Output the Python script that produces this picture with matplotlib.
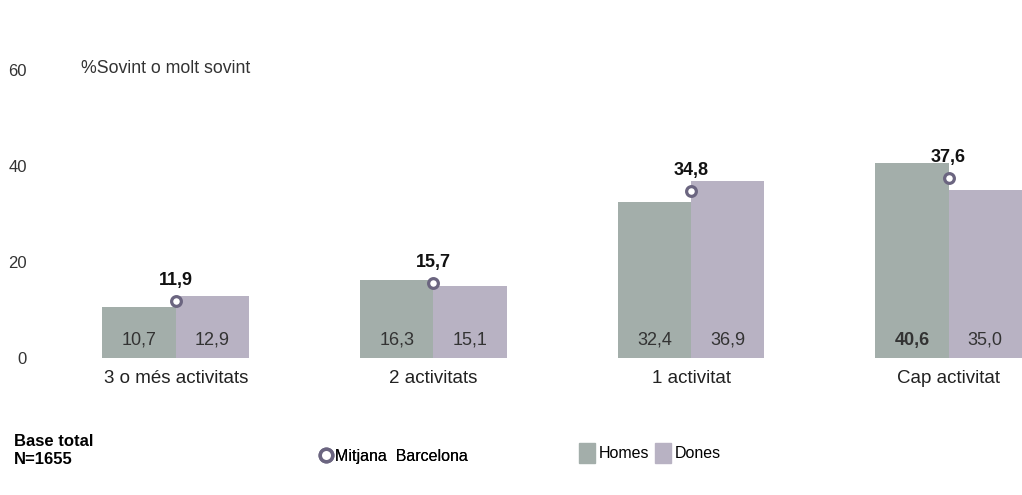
import matplotlib
matplotlib.use("Agg")
import matplotlib.pyplot as plt
from matplotlib.lines import Line2D
from matplotlib.patches import Patch
import numpy as np

plt.rcParams['font.family'] = ['Liberation Sans', 'DejaVu Sans']

# data
categories = ["3 o més activitats", "2 activitats", "1 activitat", "Cap activitat"]
homes = [10.7, 16.3, 32.4, 40.6]
dones = [12.9, 15.1, 36.9, 35.0]
mitjana = [11.9, 15.7, 34.8, 37.6]
yticks = [0, 20, 40, 60]

col_homes = "#a3aeaa"
col_dones = "#b8b2c3"
col_mark = "#6b6580"

def fmt(v):
    return ("%.1f" % v).replace(".", ",")

W, H = 1022, 495
fig = plt.figure(figsize=(W / 100, H / 100), dpi=100)
ax = fig.add_axes([60 / W, 137 / H, (W - 60) / W, 312 / H])

x = np.arange(len(categories))
bw = 0.285
ax.bar(x - bw / 2, homes, bw, color=col_homes, linewidth=0)
ax.bar(x + bw / 2, dones, bw, color=col_dones, linewidth=0)
ax.plot(x, mitjana, linestyle="none", marker="o", markersize=7,
        markerfacecolor="white", markeredgecolor=col_mark, markeredgewidth=2.3, zorder=5)

for i in range(len(categories)):
    # the reference shows 40,6 in bold
    wh = "bold" if i == 3 else "normal"
    ax.text(x[i] - bw / 2, 3.7, fmt(homes[i]), ha="center", va="center",
            fontsize=13, color="#333333", fontweight=wh)
    ax.text(x[i] + bw / 2, 3.7, fmt(dones[i]), ha="center", va="center",
            fontsize=13, color="#333333")
    ax.text(x[i], mitjana[i] + 2.4, fmt(mitjana[i]), ha="center", va="bottom",
            fontsize=13, fontweight="bold", color="#111111")
    ax.text(x[i], -2.6, categories[i], ha="center", va="top", fontsize=13.5, color="#222222")

ax.set_xlim(-0.45, 3 + bw)
ax.set_ylim(0, 65)
ax.set_yticks(yticks)
ax.set_yticklabels([str(t) for t in yticks], fontsize=12, color="#333333")
ax.tick_params(axis="y", length=0, pad=24)
ax.set_xticks([])
for s in ax.spines.values():
    s.set_visible(False)

ax.text(-0.37, 60.3, "%Sovint o molt sovint", ha="left", va="center", fontsize=12.8, color="#333333")

fig.text(14 / W, 1 - 450 / H, "Base total\nN=1655", ha="left", va="center",
         fontsize=12, fontweight="bold", linespacing=1.25)

leg1 = fig.legend(handles=[Line2D([], [], linestyle="none", marker="o", markersize=9,
                                  markerfacecolor="white", markeredgecolor=col_mark,
                                  markeredgewidth=2.5)],
                  labels=["Mitjana  Barcelona"], loc="center left",
                  bbox_to_anchor=(305 / W, 1 - 456 / H), frameon=False,
                  fontsize=11.5, handlelength=0.8, handletextpad=0.2)
fig.legend(handles=[Patch(color=col_homes), Patch(color=col_dones)],
           labels=["Homes", "Dones"], loc="center left", ncol=2,
           bbox_to_anchor=(565 / W, 1 - 453 / H), frameon=False,
           fontsize=11.5, handlelength=1.0, handleheight=1.6,
           handletextpad=0.2, columnspacing=0.4)
fig.add_artist(leg1)

fig.savefig("out.png", dpi=100)
